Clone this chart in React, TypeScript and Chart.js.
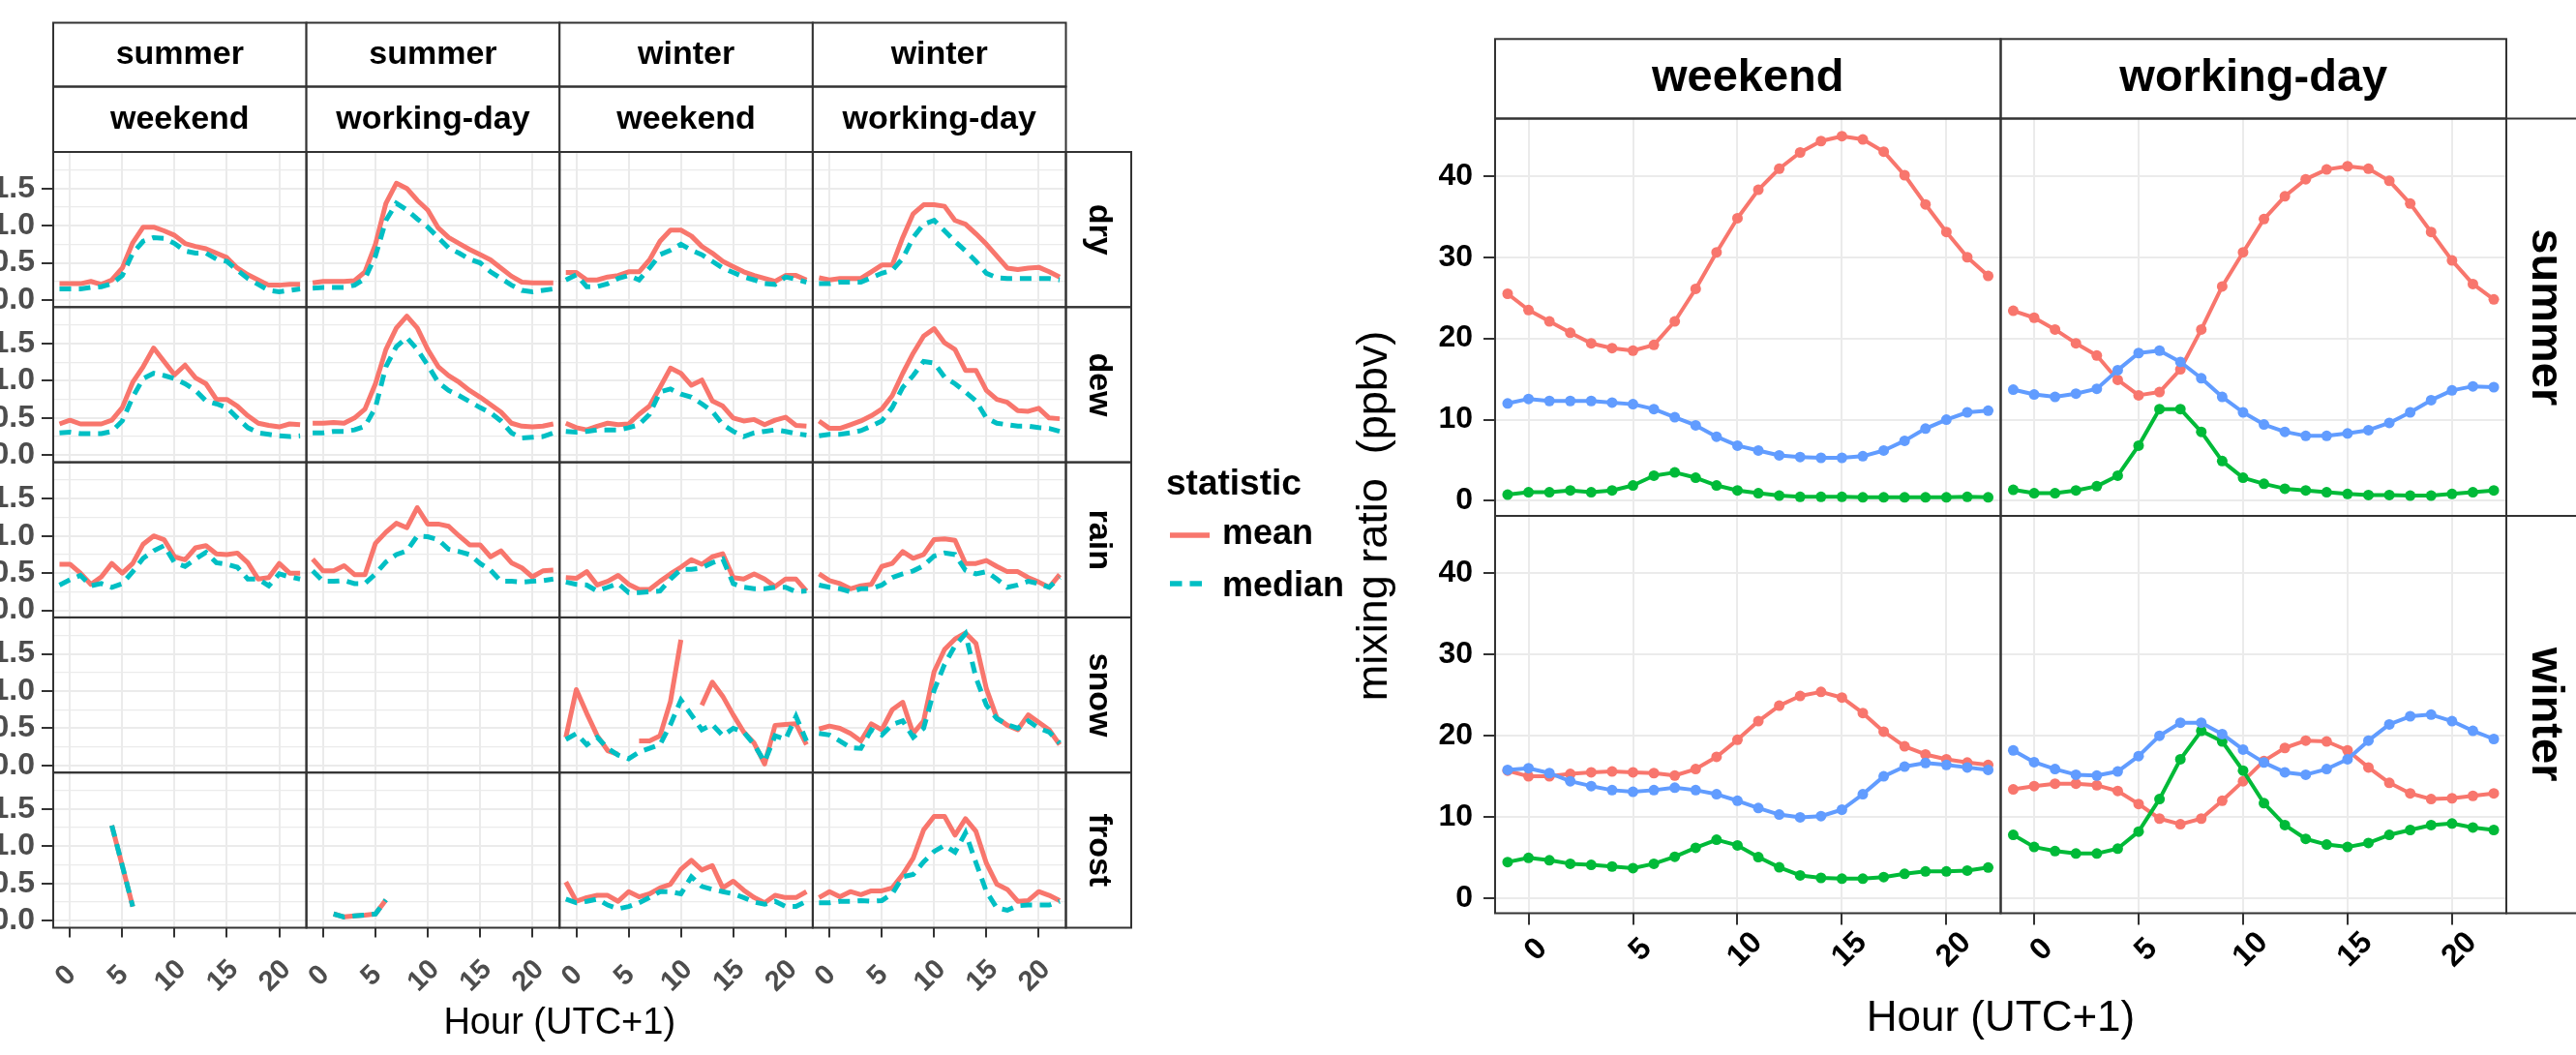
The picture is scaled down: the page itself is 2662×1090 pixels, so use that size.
import React, { useEffect, useRef } from "react";
import { Chart, registerables } from "chart.js";

Chart.register(...registerables);

const FONT = "'Liberation Sans', Arial, Helvetica, sans-serif";
const GRID = "#EBEBEB";
const AXIS = "#333333";
const RED = "#F8766D";
const TEAL = "#00BFC4";
const GREEN = "#00BA38";
const BLUE = "#619CFF";

// ---------- shared axis values ----------
const hours = [-1, 0, 1, 2, 3, 4, 5, 6, 7, 8, 9, 10, 11, 12, 13, 14, 15, 16, 17, 18, 19, 20, 21, 22];
const hourTicks = [0, 5, 10, 15, 20];
const leftMajorY = [0, 0.5, 1, 1.5];
const leftMinorY = [0.25, 0.75, 1.25, 1.75];
const rightYTicks = [0, 10, 20, 30, 40];

// ---------- left figure labels ----------
const leftColumnSeason = ["summer", "summer", "winter", "winter"];
const leftColumnDay = ["weekend", "working-day", "weekend", "working-day"];
const leftRowLabels = ["dry", "dew", "rain", "snow", "frost"];
const statisticLabels = ["mean", "median"];

// ---------- left figure data (hours -1..22) ----------
const summerWeekendDryMean = [0.22, 0.22, 0.22, 0.25, 0.21, 0.27, 0.43, 0.77, 0.98, 0.98, 0.93, 0.87, 0.76, 0.72, 0.69, 0.63, 0.57, 0.43, 0.34, 0.27, 0.2, 0.2, 0.21, 0.21];
const summerWeekendDryMedian = [0.15, 0.15, 0.15, 0.17, 0.18, 0.22, 0.33, 0.63, 0.79, 0.84, 0.83, 0.76, 0.66, 0.63, 0.63, 0.55, 0.52, 0.4, 0.29, 0.21, 0.13, 0.11, 0.13, 0.15];
const summerWorkdayDryMean = [0.23, 0.25, 0.25, 0.25, 0.26, 0.38, 0.75, 1.3, 1.57, 1.5, 1.34, 1.21, 0.97, 0.84, 0.76, 0.68, 0.61, 0.54, 0.43, 0.32, 0.24, 0.23, 0.23, 0.23];
const summerWorkdayDryMedian = [0.16, 0.17, 0.17, 0.17, 0.2, 0.29, 0.59, 1.07, 1.3, 1.21, 1.09, 0.98, 0.84, 0.7, 0.63, 0.55, 0.5, 0.38, 0.29, 0.2, 0.13, 0.11, 0.13, 0.15];
const winterWeekendDryMean = [0.37, 0.37, 0.27, 0.27, 0.31, 0.33, 0.38, 0.38, 0.54, 0.79, 0.94, 0.94, 0.86, 0.72, 0.63, 0.52, 0.45, 0.38, 0.33, 0.29, 0.25, 0.33, 0.33, 0.27];
const winterWeekendDryMedian = [0.27, 0.34, 0.18, 0.18, 0.22, 0.29, 0.33, 0.27, 0.43, 0.61, 0.67, 0.75, 0.67, 0.61, 0.52, 0.43, 0.37, 0.31, 0.27, 0.22, 0.21, 0.31, 0.28, 0.24];
const winterWorkdayDryMean = [0.3, 0.27, 0.29, 0.29, 0.29, 0.38, 0.47, 0.47, 0.84, 1.16, 1.28, 1.28, 1.26, 1.07, 1.02, 0.89, 0.75, 0.59, 0.43, 0.41, 0.43, 0.44, 0.38, 0.31];
const winterWorkdayDryMedian = [0.22, 0.22, 0.24, 0.24, 0.24, 0.3, 0.36, 0.4, 0.56, 0.84, 1.02, 1.07, 0.93, 0.79, 0.66, 0.52, 0.36, 0.3, 0.29, 0.29, 0.29, 0.29, 0.29, 0.27];

const summerWeekendDewMean = [0.42, 0.47, 0.42, 0.42, 0.42, 0.47, 0.64, 0.98, 1.19, 1.44, 1.26, 1.08, 1.21, 1.04, 0.96, 0.75, 0.75, 0.66, 0.53, 0.43, 0.4, 0.38, 0.42, 0.41];
const summerWeekendDewMedian = [0.3, 0.31, 0.29, 0.29, 0.29, 0.32, 0.46, 0.78, 1.03, 1.1, 1.07, 1.03, 0.96, 0.87, 0.73, 0.69, 0.64, 0.5, 0.37, 0.3, 0.28, 0.26, 0.25, 0.26];
const summerWorkdayDewMean = [0.43, 0.43, 0.44, 0.43, 0.5, 0.62, 0.96, 1.42, 1.71, 1.87, 1.71, 1.42, 1.19, 1.07, 0.98, 0.87, 0.78, 0.68, 0.58, 0.43, 0.39, 0.38, 0.39, 0.42];
const summerWorkdayDewMedian = [0.3, 0.3, 0.32, 0.32, 0.34, 0.39, 0.64, 1.19, 1.46, 1.58, 1.42, 1.21, 0.98, 0.87, 0.8, 0.72, 0.64, 0.57, 0.46, 0.3, 0.23, 0.24, 0.25, 0.3];
const winterWeekendDewMean = [0.43, 0.37, 0.34, 0.39, 0.43, 0.41, 0.42, 0.55, 0.66, 0.91, 1.17, 1.1, 0.94, 1.01, 0.73, 0.66, 0.5, 0.46, 0.48, 0.41, 0.47, 0.51, 0.4, 0.39];
const winterWeekendDewMedian = [0.32, 0.31, 0.32, 0.34, 0.34, 0.34, 0.37, 0.41, 0.55, 0.85, 0.89, 0.82, 0.78, 0.69, 0.59, 0.41, 0.32, 0.25, 0.3, 0.32, 0.34, 0.32, 0.29, 0.27];
const winterWorkdayDewMean = [0.46, 0.36, 0.36, 0.41, 0.46, 0.53, 0.62, 0.8, 1.1, 1.37, 1.6, 1.7, 1.51, 1.42, 1.14, 1.14, 0.87, 0.75, 0.71, 0.6, 0.59, 0.63, 0.5, 0.49];
const winterWorkdayDewMedian = [0.26, 0.28, 0.28, 0.3, 0.33, 0.39, 0.46, 0.64, 0.91, 1.07, 1.26, 1.24, 1.05, 0.96, 0.85, 0.73, 0.5, 0.43, 0.41, 0.39, 0.39, 0.37, 0.36, 0.32];

const summerWeekendRainMean = [0.62, 0.62, 0.5, 0.35, 0.45, 0.63, 0.5, 0.63, 0.89, 1.0, 0.95, 0.72, 0.68, 0.84, 0.87, 0.76, 0.75, 0.77, 0.64, 0.42, 0.44, 0.63, 0.5, 0.5];
const summerWeekendRainMedian = [0.34, 0.41, 0.47, 0.33, 0.36, 0.31, 0.36, 0.52, 0.7, 0.8, 0.87, 0.64, 0.59, 0.69, 0.78, 0.64, 0.62, 0.58, 0.42, 0.42, 0.33, 0.49, 0.45, 0.42];
const summerWorkdayRainMean = [0.69, 0.53, 0.53, 0.6, 0.48, 0.48, 0.9, 1.05, 1.17, 1.11, 1.38, 1.16, 1.16, 1.13, 1.0, 0.88, 0.88, 0.72, 0.8, 0.64, 0.57, 0.45, 0.53, 0.54];
const summerWorkdayRainMedian = [0.53, 0.39, 0.39, 0.4, 0.36, 0.36, 0.49, 0.65, 0.75, 0.8, 1.0, 0.99, 0.95, 0.82, 0.79, 0.75, 0.63, 0.54, 0.39, 0.39, 0.38, 0.39, 0.4, 0.42];
const winterWeekendRainMean = [0.44, 0.43, 0.52, 0.34, 0.39, 0.47, 0.35, 0.28, 0.28, 0.39, 0.49, 0.58, 0.68, 0.62, 0.72, 0.76, 0.44, 0.42, 0.49, 0.42, 0.32, 0.42, 0.42, 0.26];
const winterWeekendRainMedian = [0.38, 0.35, 0.34, 0.26, 0.31, 0.36, 0.24, 0.24, 0.25, 0.26, 0.42, 0.55, 0.55, 0.57, 0.64, 0.69, 0.36, 0.31, 0.29, 0.29, 0.31, 0.31, 0.25, 0.26];
const winterWorkdayRainMean = [0.49, 0.4, 0.36, 0.29, 0.33, 0.35, 0.59, 0.63, 0.79, 0.7, 0.75, 0.95, 0.96, 0.94, 0.63, 0.63, 0.67, 0.59, 0.52, 0.52, 0.44, 0.38, 0.31, 0.48];
const winterWorkdayRainMedian = [0.34, 0.31, 0.29, 0.25, 0.29, 0.29, 0.34, 0.44, 0.49, 0.53, 0.6, 0.73, 0.77, 0.75, 0.54, 0.49, 0.52, 0.42, 0.31, 0.34, 0.39, 0.36, 0.31, 0.44];

const summerWeekendSnowMean: (number | null)[] = [];
const summerWeekendSnowMedian: (number | null)[] = [];
const summerWorkdaySnowMean: (number | null)[] = [];
const summerWorkdaySnowMedian: (number | null)[] = [];
const winterWeekendSnowMean = [0.38, 1.02, 0.7, 0.4, 0.2, 0.15, null, 0.33, 0.33, 0.4, 0.86, 1.69, null, 0.81, 1.12, 0.93, 0.68, 0.45, 0.3, 0.02, 0.54, 0.55, 0.56, 0.28];
const winterWeekendSnowMedian = [0.35, 0.43, 0.28, 0.38, 0.23, 0.14, 0.09, 0.18, 0.23, 0.28, 0.55, 0.88, 0.68, 0.48, 0.55, 0.4, 0.5, 0.45, 0.28, 0.05, 0.4, 0.35, 0.66, 0.33];
const winterWorkdaySnowMean = [0.49, 0.53, 0.5, 0.43, 0.33, 0.56, 0.48, 0.75, 0.85, 0.43, 0.6, 1.26, 1.56, 1.7, 1.78, 1.64, 1.03, 0.64, 0.54, 0.48, 0.68, 0.58, 0.48, 0.28];
const winterWorkdaySnowMedian = [0.43, 0.41, 0.33, 0.24, 0.23, 0.48, 0.41, 0.55, 0.6, 0.38, 0.5, 1.01, 1.36, 1.61, 1.77, 1.18, 0.81, 0.63, 0.55, 0.5, 0.6, 0.5, 0.45, 0.3];

const summerWeekendFrostMean = [null, null, null, null, null, 1.28, 0.74, 0.19, null, null, null, null, null, null, null, null, null, null, null, null, null, null, null, null];
const summerWeekendFrostMedian = [null, null, null, null, null, 1.28, 0.74, 0.19, null, null, null, null, null, null, null, null, null, null, null, null, null, null, null, null];
const summerWorkdayFrostMean = [null, null, 0.09, 0.05, 0.065, 0.075, 0.09, 0.28, null, null, null, null, null, null, null, null, null, null, null, null, null, null, null, null];
const summerWorkdayFrostMedian = [null, null, 0.09, 0.05, 0.065, 0.075, 0.09, 0.28, null, null, null, null, null, null, null, null, null, null, null, null, null, null, null, null];
const winterWeekendFrostMean = [0.52, 0.26, 0.31, 0.34, 0.34, 0.26, 0.39, 0.32, 0.36, 0.44, 0.49, 0.69, 0.81, 0.68, 0.74, 0.44, 0.53, 0.41, 0.31, 0.24, 0.34, 0.31, 0.31, 0.39];
const winterWeekendFrostMedian = [0.29, 0.24, 0.26, 0.29, 0.21, 0.16, 0.19, 0.24, 0.31, 0.39, 0.39, 0.36, 0.59, 0.46, 0.42, 0.39, 0.36, 0.31, 0.25, 0.22, 0.26, 0.19, 0.19, 0.26];
const winterWorkdayFrostMean = [0.31, 0.39, 0.32, 0.39, 0.35, 0.4, 0.4, 0.44, 0.62, 0.84, 1.22, 1.4, 1.4, 1.15, 1.37, 1.2, 0.77, 0.49, 0.42, 0.26, 0.27, 0.39, 0.34, 0.27];
const winterWorkdayFrostMedian = [0.24, 0.24, 0.26, 0.26, 0.27, 0.26, 0.27, 0.36, 0.59, 0.62, 0.79, 0.93, 1.01, 0.92, 1.18, 0.78, 0.39, 0.17, 0.14, 0.2, 0.21, 0.21, 0.21, 0.26];

// ---------- right figure labels ----------
const rightColumnLabels = ["weekend", "working-day"];
const rightRowLabels = ["summer", "winter"];

// ---------- right figure data (hours -1..22) ----------
const summerWeekendRed = [25.5, 23.5, 22.1, 20.7, 19.4, 18.8, 18.5, 19.2, 22.1, 26.1, 30.6, 34.8, 38.3, 40.9, 42.9, 44.3, 44.9, 44.5, 43.0, 40.1, 36.5, 33.1, 30.0, 27.7];
const summerWeekendBlue = [12.0, 12.55, 12.3, 12.3, 12.3, 12.1, 11.9, 11.3, 10.3, 9.3, 7.9, 6.8, 6.2, 5.6, 5.4, 5.3, 5.3, 5.5, 6.2, 7.4, 8.9, 10.0, 10.9, 11.1];
const summerWeekendGreen = [0.77, 1.06, 1.06, 1.28, 1.06, 1.28, 1.9, 3.1, 3.5, 2.85, 1.9, 1.28, 0.94, 0.64, 0.5, 0.5, 0.5, 0.43, 0.43, 0.43, 0.43, 0.43, 0.5, 0.44];
const summerWorkdayRed = [23.4, 22.55, 21.1, 19.4, 17.9, 14.9, 13.0, 13.4, 16.2, 21.1, 26.4, 30.6, 34.7, 37.5, 39.6, 40.8, 41.2, 40.9, 39.4, 36.6, 33.1, 29.6, 26.7, 24.8];
const summerWorkdayBlue = [13.7, 13.1, 12.8, 13.2, 13.8, 16.1, 18.2, 18.5, 17.1, 15.1, 12.8, 10.9, 9.4, 8.5, 8.0, 8.0, 8.3, 8.7, 9.6, 10.9, 12.4, 13.6, 14.1, 14.0];
const summerWorkdayGreen = [1.36, 0.94, 0.94, 1.28, 1.8, 3.1, 6.8, 11.3, 11.3, 8.5, 4.9, 2.85, 2.1, 1.5, 1.28, 1.06, 0.85, 0.72, 0.72, 0.64, 0.64, 0.85, 1.06, 1.28];
const winterWeekendRed = [15.7, 15.0, 15.0, 15.3, 15.5, 15.6, 15.5, 15.4, 15.1, 15.9, 17.4, 19.5, 21.8, 23.7, 24.9, 25.4, 24.7, 22.8, 20.5, 18.7, 17.7, 17.1, 16.7, 16.4];
const winterWeekendBlue = [15.8, 16.0, 15.4, 14.4, 13.8, 13.3, 13.1, 13.3, 13.6, 13.3, 12.8, 12.0, 11.1, 10.3, 9.95, 10.1, 10.9, 12.8, 15.0, 16.2, 16.65, 16.4, 16.1, 15.8];
const winterWeekendGreen = [4.45, 4.97, 4.67, 4.24, 4.1, 3.9, 3.7, 4.24, 5.1, 6.2, 7.2, 6.5, 5.06, 3.8, 2.8, 2.5, 2.4, 2.4, 2.6, 3.0, 3.3, 3.3, 3.4, 3.77];
const winterWorkdayRed = [13.4, 13.8, 14.1, 14.1, 13.9, 13.2, 11.6, 9.8, 9.1, 9.8, 12.0, 14.4, 16.9, 18.5, 19.4, 19.3, 18.2, 16.1, 14.2, 12.9, 12.2, 12.3, 12.6, 12.9];
const winterWorkdayBlue = [18.2, 16.75, 15.9, 15.2, 15.1, 15.6, 17.5, 20.0, 21.6, 21.6, 20.2, 18.3, 16.7, 15.5, 15.2, 15.9, 17.1, 19.4, 21.4, 22.4, 22.6, 21.8, 20.6, 19.6];
const winterWorkdayGreen = [7.8, 6.3, 5.8, 5.5, 5.5, 6.1, 8.2, 12.2, 17.1, 20.6, 19.3, 15.7, 11.7, 9.0, 7.3, 6.6, 6.3, 6.8, 7.8, 8.4, 9.0, 9.2, 8.7, 8.4];

// ---------- grouping tables ----------
const leftMeans = [
  [summerWeekendDryMean, summerWorkdayDryMean, winterWeekendDryMean, winterWorkdayDryMean],
  [summerWeekendDewMean, summerWorkdayDewMean, winterWeekendDewMean, winterWorkdayDewMean],
  [summerWeekendRainMean, summerWorkdayRainMean, winterWeekendRainMean, winterWorkdayRainMean],
  [summerWeekendSnowMean, summerWorkdaySnowMean, winterWeekendSnowMean, winterWorkdaySnowMean],
  [summerWeekendFrostMean, summerWorkdayFrostMean, winterWeekendFrostMean, winterWorkdayFrostMean],
];
const leftMedians = [
  [summerWeekendDryMedian, summerWorkdayDryMedian, winterWeekendDryMedian, winterWorkdayDryMedian],
  [summerWeekendDewMedian, summerWorkdayDewMedian, winterWeekendDewMedian, winterWorkdayDewMedian],
  [summerWeekendRainMedian, summerWorkdayRainMedian, winterWeekendRainMedian, winterWorkdayRainMedian],
  [summerWeekendSnowMedian, summerWorkdaySnowMedian, winterWeekendSnowMedian, winterWorkdaySnowMedian],
  [summerWeekendFrostMedian, summerWorkdayFrostMedian, winterWeekendFrostMedian, winterWorkdayFrostMedian],
];
const rightRed = [[summerWeekendRed, summerWorkdayRed], [winterWeekendRed, winterWorkdayRed]];
const rightGreen = [[summerWeekendGreen, summerWorkdayGreen], [winterWeekendGreen, winterWorkdayGreen]];
const rightBlue = [[summerWeekendBlue, summerWorkdayBlue], [winterWeekendBlue, winterWorkdayBlue]];

// ---------- layout (viewport px) ----------
const L_CANVAS_X = -60;
const L_CANVAS_W = 1460;
const L_PANEL_LEFT = 55;
const L_PANEL_RIGHT = 1101.5;
const L_PANEL_TOP = 157;
const L_PANEL_BOTTOM = 958.5;
const L_STRIP1_TOP = 23.5;
const L_STRIP2_TOP = 89.5;
const L_RSTRIP_RIGHT = 1169;

const R_CANVAS_X = 1400;
const R_CANVAS_W = 1262;
const R_PANEL_LEFT = 1545;
const R_PANEL_RIGHT = 2590;
const R_PANEL_TOP = 122.5;
const R_PANEL_BOTTOM = 943.5;
const R_STRIP_TOP = 40.3;

const H = 1090;

const toPoints = (arr: (number | null)[]) => arr.map((v, i) => ({ x: hours[i], y: v }));
const isHalf = (v: number) => Math.abs(v * 2 - Math.round(v * 2)) < 1e-9;

function leftConfig(): any {
  const scales: any = {};
  for (let c = 0; c < 4; c++) {
    scales["x" + c] = {
      type: "linear",
      position: "bottom",
      stack: "cols",
      stackWeight: 1,
      weight: c,
      min: -1.6,
      max: 22.6,
      afterBuildTicks: (s: any) => {
        s.ticks = hourTicks.map((v) => ({ value: v }));
      },
      afterFit: (s: any) => {
        s.height = H - L_PANEL_BOTTOM;
      },
      ticks: { display: false, autoSkip: false },
      grid: { color: GRID, lineWidth: 2, drawTicks: true, tickLength: 10, tickColor: AXIS, tickWidth: 2 },
      border: { display: false },
    };
  }
  for (let r = 0; r < 5; r++) {
    scales["y" + r] = {
      type: "linear",
      position: "left",
      stack: "rows",
      stackWeight: 1,
      weight: 10 - r,
      min: -0.095,
      max: 1.99,
      afterBuildTicks: (s: any) => {
        s.ticks = [...leftMajorY, ...leftMinorY].sort((a, b) => a - b).map((v) => ({ value: v }));
      },
      afterFit: (s: any) => {
        s.width = L_PANEL_LEFT - L_CANVAS_X;
      },
      ticks: {
        autoSkip: false,
        padding: 7,
        color: "#4D4D4D",
        font: { family: FONT, size: 32, weight: "bold" },
        callback: (v: number) => (isHalf(v) ? v.toFixed(1) : ""),
      },
      grid: {
        color: GRID,
        lineWidth: (ctx: any) => (ctx.tick && !isHalf(ctx.tick.value) ? 1.2 : 2),
        tickLength: 12,
        tickWidth: 2,
        tickColor: (ctx: any) => (ctx.tick && !isHalf(ctx.tick.value) ? "rgba(0,0,0,0)" : AXIS),
      },
      border: { display: false },
    };
  }

  const datasets: any[] = [];
  for (let r = 0; r < 5; r++) {
    for (let c = 0; c < 4; c++) {
      datasets.push({
        label: `${leftColumnSeason[c]} ${leftColumnDay[c]} ${leftRowLabels[r]} ${statisticLabels[1]}`,
        data: toPoints(leftMedians[r][c]),
        xAxisID: "x" + c,
        yAxisID: "y" + r,
        borderColor: TEAL,
        borderWidth: 5,
        borderDash: [12, 8],
        pointRadius: 0,
        fill: false,
        tension: 0,
        order: 1,
      });
      datasets.push({
        label: `${leftColumnSeason[c]} ${leftColumnDay[c]} ${leftRowLabels[r]} ${statisticLabels[0]}`,
        data: toPoints(leftMeans[r][c]),
        xAxisID: "x" + c,
        yAxisID: "y" + r,
        borderColor: RED,
        borderWidth: 5,
        borderJoinStyle: "round",
        pointRadius: 0,
        fill: false,
        tension: 0,
        order: 2,
      });
    }
  }

  const decor = {
    id: "leftDecor",
    afterDraw(chart: any) {
      const ctx = chart.ctx;
      const area = chart.chartArea;
      const xs = [0, 1, 2, 3].map((c) => chart.scales["x" + c]);
      const ys = [0, 1, 2, 3, 4].map((r) => chart.scales["y" + r]);
      const vx = (v: number) => v - L_CANVAS_X;
      ctx.save();
      ctx.lineWidth = 2;
      ctx.strokeStyle = AXIS;
      ctx.setLineDash([]);
      for (const x of xs) for (const y of ys) ctx.strokeRect(x.left, y.top, x.right - x.left, y.bottom - y.top);

      // top strips
      ctx.textAlign = "center";
      ctx.textBaseline = "middle";
      ctx.font = `bold 34px ${FONT}`;
      const t1 = L_STRIP1_TOP;
      const t2 = L_STRIP2_TOP;
      const t3 = area.top;
      xs.forEach((x: any, c: number) => {
        ctx.fillStyle = "#ffffff";
        ctx.fillRect(x.left, t1, x.right - x.left, t3 - t1);
        ctx.strokeRect(x.left, t1, x.right - x.left, t2 - t1);
        ctx.strokeRect(x.left, t2, x.right - x.left, t3 - t2);
        ctx.fillStyle = "#000000";
        ctx.fillText(leftColumnSeason[c], (x.left + x.right) / 2, (t1 + t2) / 2);
        ctx.fillText(leftColumnDay[c], (x.left + x.right) / 2, (t2 + t3) / 2);
      });

      // right strips
      const rs0 = area.right;
      const rs1 = vx(L_RSTRIP_RIGHT);
      ys.forEach((y: any, r: number) => {
        ctx.strokeRect(rs0, y.top, rs1 - rs0, y.bottom - y.top);
        ctx.save();
        ctx.translate((rs0 + rs1) / 2, (y.top + y.bottom) / 2);
        ctx.rotate(Math.PI / 2);
        ctx.fillText(leftRowLabels[r], 0, 0);
        ctx.restore();
      });

      // x tick labels
      ctx.font = `bold 29px ${FONT}`;
      ctx.fillStyle = "#4D4D4D";
      xs.forEach((x: any) => {
        hourTicks.forEach((v) => {
          const px = x.getPixelForValue(v);
          ctx.save();
          ctx.translate(px - 4, area.bottom + 50);
          ctx.rotate(-Math.PI / 4);
          ctx.fillText(String(v), 0, 0);
          ctx.restore();
        });
      });

      // x title
      ctx.fillStyle = "#000000";
      ctx.font = `38px ${FONT}`;
      ctx.fillText("Hour (UTC+1)", (area.left + area.right) / 2, 1058);

      // legend
      ctx.textAlign = "left";
      ctx.font = `bold 37px ${FONT}`;
      ctx.fillText("statistic", vx(1205), 501);
      ctx.font = `bold 36px ${FONT}`;
      ctx.fillText(statisticLabels[0], vx(1263), 552);
      ctx.fillText(statisticLabels[1], vx(1263), 606);
      ctx.lineWidth = 5.5;
      ctx.lineCap = "butt";
      ctx.strokeStyle = RED;
      ctx.beginPath();
      ctx.moveTo(vx(1209), 553);
      ctx.lineTo(vx(1250), 553);
      ctx.stroke();
      ctx.strokeStyle = TEAL;
      ctx.setLineDash([12.5, 8]);
      ctx.beginPath();
      ctx.moveTo(vx(1209), 603);
      ctx.lineTo(vx(1250), 603);
      ctx.stroke();
      ctx.restore();
    },
  };

  return {
    type: "line",
    data: { datasets },
    options: {
      animation: false,
      responsive: false,
      devicePixelRatio: 1,
      events: [],
      spanGaps: false,
      layout: { padding: { left: 0, top: L_PANEL_TOP, right: L_CANVAS_X + L_CANVAS_W - L_PANEL_RIGHT, bottom: 0 } },
      plugins: { legend: { display: false }, tooltip: { enabled: false }, title: { display: false } },
      scales,
    },
    plugins: [decor],
  };
}

function rightConfig(): any {
  const scales: any = {};
  for (let c = 0; c < 2; c++) {
    scales["x" + c] = {
      type: "linear",
      position: "bottom",
      stack: "cols",
      stackWeight: 1,
      weight: c,
      min: -1.6,
      max: 22.6,
      afterBuildTicks: (s: any) => {
        s.ticks = hourTicks.map((v) => ({ value: v }));
      },
      afterFit: (s: any) => {
        s.height = H - R_PANEL_BOTTOM;
      },
      ticks: { display: false, autoSkip: false },
      grid: { color: GRID, lineWidth: 2, drawTicks: true, tickLength: 12, tickColor: AXIS, tickWidth: 2 },
      border: { display: false },
    };
  }
  for (let r = 0; r < 2; r++) {
    scales["y" + r] = {
      type: "linear",
      position: "left",
      stack: "rows",
      stackWeight: 1,
      weight: 10 - r,
      min: -1.85,
      max: 47.07,
      afterBuildTicks: (s: any) => {
        s.ticks = rightYTicks.map((v) => ({ value: v }));
      },
      afterFit: (s: any) => {
        s.width = R_PANEL_LEFT - R_CANVAS_X;
      },
      ticks: {
        autoSkip: false,
        padding: 11,
        color: "#000000",
        font: { family: FONT, size: 32, weight: "bold" },
        callback: (v: number) => String(v),
      },
      grid: { color: GRID, lineWidth: 2, tickLength: 12, tickWidth: 2, tickColor: AXIS },
      border: { display: false },
    };
  }

  const datasets: any[] = [];
  const mk = (arr: number[], color: string, r: number, c: number, order: number, name: string) => ({
    label: `${rightRowLabels[r]} ${rightColumnLabels[c]} ${name}`,
    data: toPoints(arr),
    xAxisID: "x" + c,
    yAxisID: "y" + r,
    borderColor: color,
    backgroundColor: color,
    borderWidth: 4,
    borderJoinStyle: "round",
    pointRadius: 5.5,
    pointBorderWidth: 0,
    pointBackgroundColor: color,
    fill: false,
    tension: 0,
    order,
  });
  for (let r = 0; r < 2; r++) {
    for (let c = 0; c < 2; c++) {
      datasets.push(mk(rightBlue[r][c], BLUE, r, c, 1, "blue"));
      datasets.push(mk(rightGreen[r][c], GREEN, r, c, 2, "green"));
      datasets.push(mk(rightRed[r][c], RED, r, c, 3, "red"));
    }
  }

  const decor = {
    id: "rightDecor",
    afterDraw(chart: any) {
      const ctx = chart.ctx;
      const area = chart.chartArea;
      const xs = [0, 1].map((c) => chart.scales["x" + c]);
      const ys = [0, 1].map((r) => chart.scales["y" + r]);
      const vx = (v: number) => v - R_CANVAS_X;
      ctx.save();
      ctx.lineWidth = 2;
      ctx.strokeStyle = AXIS;
      ctx.setLineDash([]);
      for (const x of xs) for (const y of ys) ctx.strokeRect(x.left, y.top, x.right - x.left, y.bottom - y.top);

      ctx.textAlign = "center";
      ctx.textBaseline = "middle";
      ctx.font = `bold 47px ${FONT}`;
      ctx.fillStyle = "#000000";
      xs.forEach((x: any, c: number) => {
        ctx.strokeRect(x.left, R_STRIP_TOP, x.right - x.left, area.top - R_STRIP_TOP);
        ctx.fillText(rightColumnLabels[c], (x.left + x.right) / 2, (R_STRIP_TOP + area.top) / 2);
      });
      const rs0 = area.right;
      ys.forEach((y: any, r: number) => {
        ctx.strokeRect(rs0, y.top, 200, y.bottom - y.top);
        ctx.save();
        ctx.translate(vx(2630), (y.top + y.bottom) / 2);
        ctx.rotate(Math.PI / 2);
        ctx.fillText(rightRowLabels[r], 0, 0);
        ctx.restore();
      });

      // x tick labels
      ctx.font = `bold 32px ${FONT}`;
      xs.forEach((x: any) => {
        hourTicks.forEach((v) => {
          const px = x.getPixelForValue(v);
          ctx.save();
          ctx.translate(px + 8, area.bottom + 38);
          ctx.rotate(-Math.PI / 4);
          ctx.fillText(String(v), 0, 0);
          ctx.restore();
        });
      });

      // axis titles
      ctx.font = `44px ${FONT}`;
      ctx.fillText("Hour (UTC+1)", (area.left + area.right) / 2, 1053);
      ctx.font = `45px ${FONT}`;
      ctx.save();
      ctx.translate(vx(1421), (area.top + area.bottom) / 2);
      ctx.rotate(-Math.PI / 2);
      ctx.fillText("mixing ratio  (ppbv)", 0, 0);
      ctx.restore();
      ctx.restore();
    },
  };

  return {
    type: "line",
    data: { datasets },
    options: {
      animation: false,
      responsive: false,
      devicePixelRatio: 1,
      events: [],
      spanGaps: false,
      layout: { padding: { left: 0, top: R_PANEL_TOP, right: R_CANVAS_X + R_CANVAS_W - R_PANEL_RIGHT, bottom: 0 } },
      plugins: { legend: { display: false }, tooltip: { enabled: false }, title: { display: false } },
      scales,
    },
    plugins: [decor],
  };
}

export default function App() {
  const leftRef = useRef<HTMLCanvasElement>(null);
  const rightRef = useRef<HTMLCanvasElement>(null);

  useEffect(() => {
    const lc = new Chart(leftRef.current as HTMLCanvasElement, leftConfig());
    const rc = new Chart(rightRef.current as HTMLCanvasElement, rightConfig());
    return () => {
      lc.destroy();
      rc.destroy();
    };
  }, []);

  return (
    <div
      style={{
        position: "fixed",
        left: 0,
        top: 0,
        width: 2662,
        height: H,
        overflow: "hidden",
        background: "#ffffff",
      }}
    >
      <canvas
        ref={leftRef}
        width={L_CANVAS_W}
        height={H}
        style={{ position: "absolute", left: L_CANVAS_X, top: 0, width: L_CANVAS_W, height: H }}
      />
      <canvas
        ref={rightRef}
        width={R_CANVAS_W}
        height={H}
        style={{ position: "absolute", left: R_CANVAS_X, top: 0, width: R_CANVAS_W, height: H }}
      />
    </div>
  );
}
